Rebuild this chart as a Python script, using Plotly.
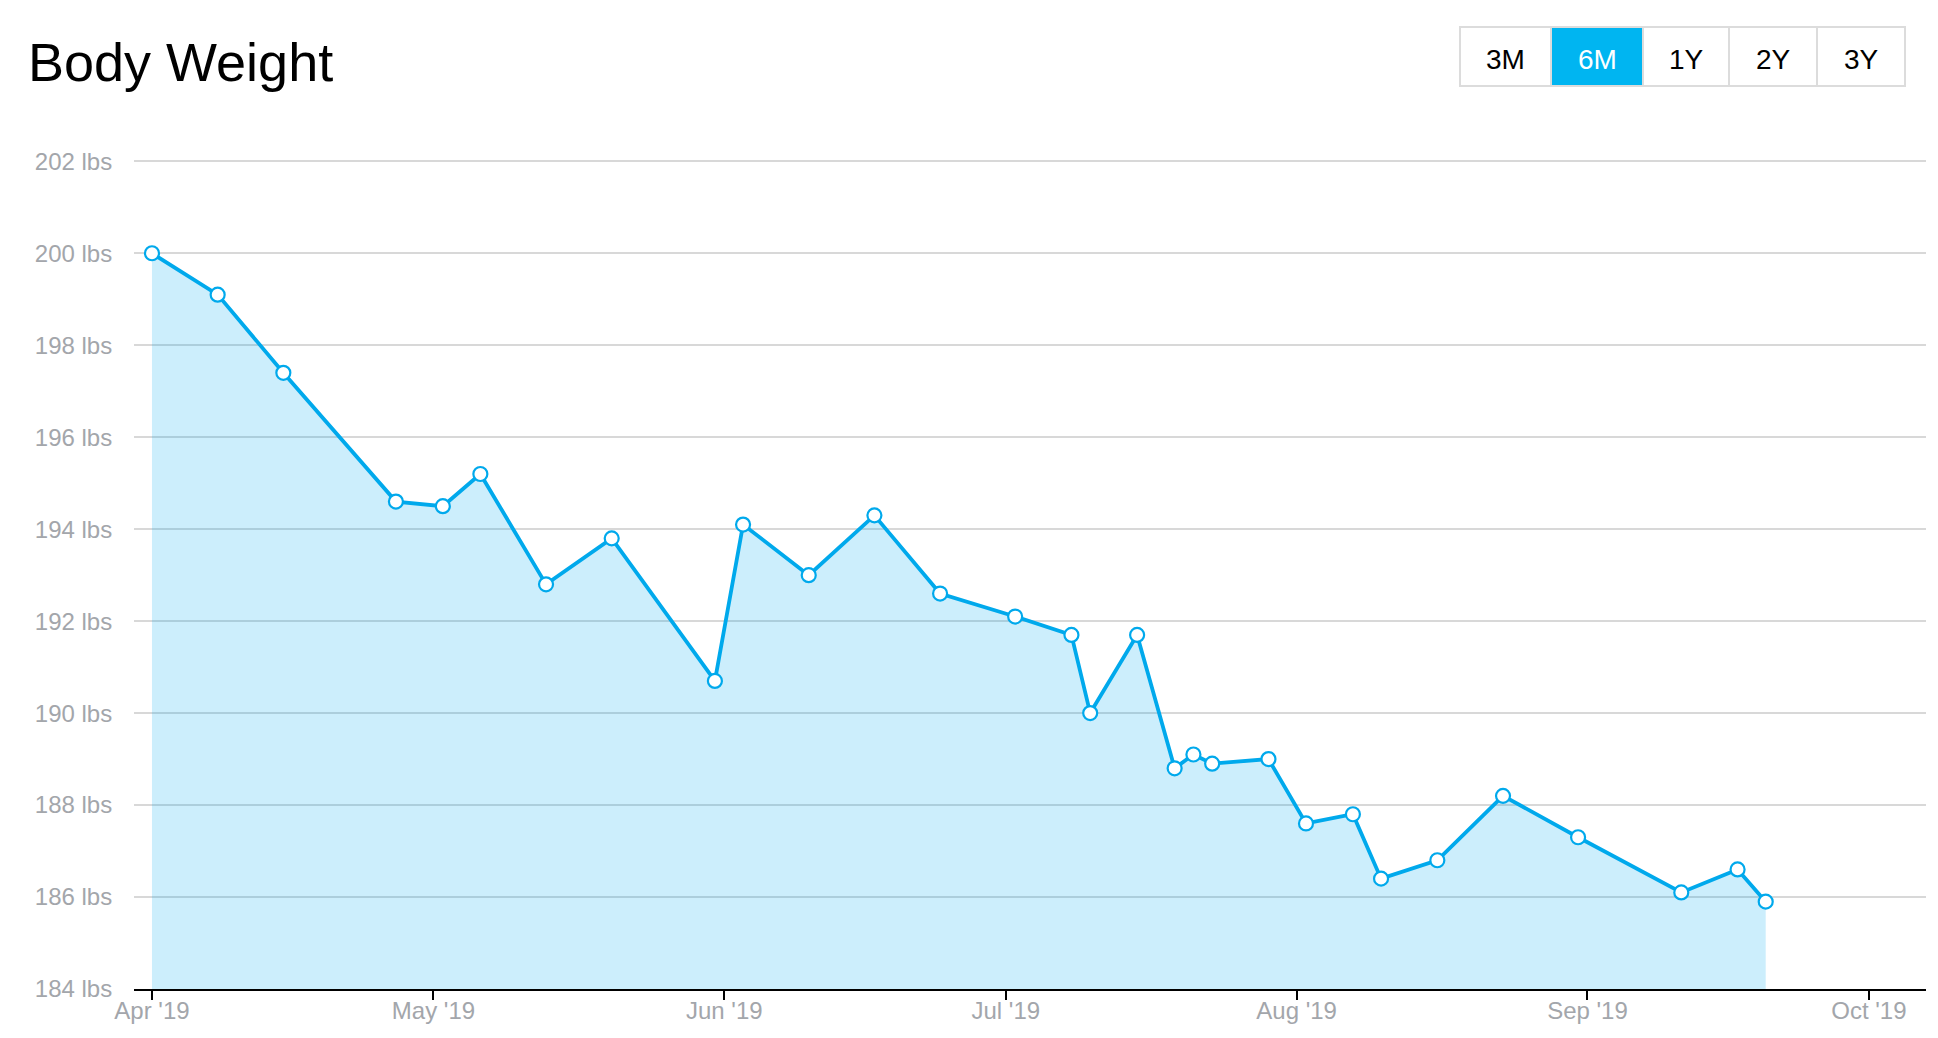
import plotly.graph_objects as go

# ---- data ----
dates = ["2019-04-01", "2019-04-08", "2019-04-15", "2019-04-27", "2019-05-02",
         "2019-05-06", "2019-05-13", "2019-05-20", "2019-05-31", "2019-06-03",
         "2019-06-10", "2019-06-17", "2019-06-24", "2019-07-02", "2019-07-08",
         "2019-07-10", "2019-07-15", "2019-07-19", "2019-07-21", "2019-07-23",
         "2019-07-29", "2019-08-02", "2019-08-07", "2019-08-10", "2019-08-16",
         "2019-08-23", "2019-08-31", "2019-09-11", "2019-09-17", "2019-09-20"]
weights = [200.0, 199.1, 197.4, 194.6, 194.5,
           195.2, 192.8, 193.8, 190.7, 194.1,
           193.0, 194.3, 192.6, 192.1, 191.7,
           190.0, 191.7, 188.8, 189.1, 188.9,
           189.0, 187.6, 187.8, 186.4, 186.8,
           188.2, 187.3, 186.1, 186.6, 185.9]
y_ticks = [184, 186, 188, 190, 192, 194, 196, 198, 200, 202]
y_tick_text = [f"{v} lbs" for v in y_ticks]
range_buttons = ["3M", "6M", "1Y", "2Y", "3Y"]
active_button = "6M"

# ---- styling ----
BLUE = "#00a9ec"
BTN_BLUE = "#00b5f1"
FONT = "Liberation Sans, Arial, Helvetica, sans-serif"
GRAY_TXT = "#a3a6ab"

W, H = 1938, 1038
L, R, T, B = 134, 12, 159, 49
pw, ph = W - L - R, H - T - B


def px(x):
    return (x - L) / pw


def py(y):
    return (H - B - y) / ph


fig = go.Figure()
fig.add_trace(go.Scatter(
    x=dates, y=weights, mode="lines+markers",
    line=dict(color=BLUE, width=3.8),
    marker=dict(size=14, color="white", line=dict(color=BLUE, width=2.2)),
    fill="tozeroy", fillcolor="rgba(0,170,238,0.2)",
    hoverinfo="x+y", showlegend=False,
))

# ---- range buttons (drawn) ----
btn_edges = [1460, 1551, 1643, 1729, 1817, 1905]
btn_top, btn_bot = 27, 86
shapes = []
annotations = []
for i, lab in enumerate(range_buttons):
    x0, x1 = btn_edges[i], btn_edges[i + 1]
    if lab == active_button:
        shapes.append(dict(type="rect", xref="paper", yref="paper",
                           x0=px(x0), x1=px(x1), y0=py(btn_bot), y1=py(btn_top),
                           fillcolor=BTN_BLUE, line=dict(width=0), layer="above"))
    annotations.append(dict(text=lab, xref="paper", yref="paper",
                            x=px((x0 + x1) / 2), y=py((btn_top + btn_bot) / 2 + 2.5),
                            xanchor="center", yanchor="middle", showarrow=False,
                            font=dict(family=FONT, size=28,
                                      color="white" if lab == active_button else "black")))
shapes.append(dict(type="rect", xref="paper", yref="paper",
                   x0=px(btn_edges[0]), x1=px(btn_edges[-1]), y0=py(btn_bot), y1=py(btn_top),
                   line=dict(color="#dcdcdc", width=2), fillcolor="rgba(0,0,0,0)", layer="above"))
for e in btn_edges[1:-1]:
    shapes.append(dict(type="line", xref="paper", yref="paper",
                       x0=px(e), x1=px(e), y0=py(btn_bot), y1=py(btn_top),
                       line=dict(color="#dcdcdc", width=2), layer="above"))

fig.update_layout(
    width=W, height=H,
    margin=dict(l=L, r=R, t=T, b=B, pad=0, autoexpand=False),
    paper_bgcolor="white", plot_bgcolor="white",
    title=dict(text="Body Weight", x=28 / W, xref="container",
               xanchor="left", y=1 - 62 / H, yref="container", yanchor="middle",
               font=dict(family=FONT, size=54, color="black")),
    font=dict(family=FONT),
    shapes=shapes, annotations=annotations,
    xaxis=dict(
        type="date", automargin=False,
        range=["2019-03-30 02:00", "2019-10-07 02:00"],
        tick0="2019-04-01", dtick="M1", tickformat="%b '%y",
        showgrid=False, zeroline=False,
        showline=True, linecolor="black", linewidth=2,
        ticks="outside", ticklen=9, tickwidth=2, tickcolor="black",
        ticklabelstandoff=-10,
        tickfont=dict(family=FONT, size=24, color=GRAY_TXT),
        fixedrange=True,
    ),
    yaxis=dict(
        automargin=False,
        range=[184, 202.05],
        tickvals=y_ticks, ticktext=y_tick_text,
        showgrid=True, gridcolor="#d8d8d8", gridwidth=1.5,
        zeroline=False, showline=False,
        ticks="outside", ticklen=16, tickcolor="rgba(0,0,0,0)",
        tickfont=dict(family=FONT, size=24, color=GRAY_TXT),
        fixedrange=True,
    ),
)

fig.write_html("out.html", config={"displayModeBar": False},
               post_script="document.body.style.margin='0';document.body.style.overflow='hidden';")
